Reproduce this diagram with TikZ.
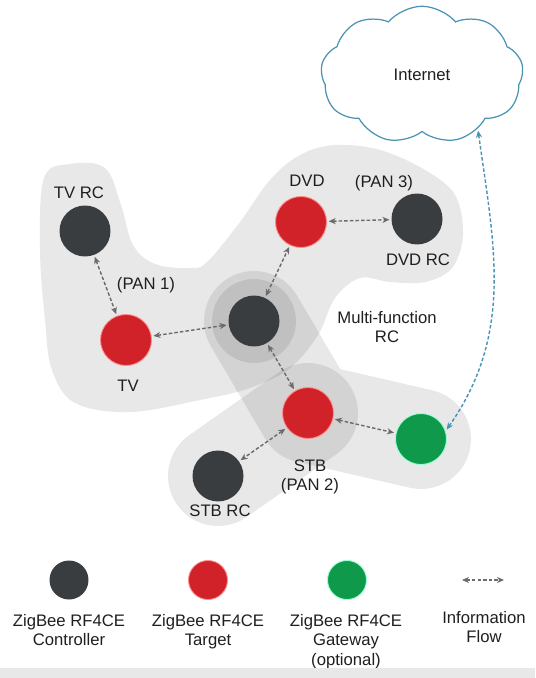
\documentclass[tikz,border=0pt]{standalone}
\usepackage{fontspec}
\setmainfont{Liberation Sans}
\usepackage{tikz}
\usetikzlibrary{shapes.symbols,arrows.meta,backgrounds}

\definecolor{ctrlgray}{HTML}{3A3D3F}
\definecolor{targetred}{HTML}{D12229}
\definecolor{gwgreen}{HTML}{0E9A4A}
\definecolor{cloudblue}{HTML}{4A93B3}
\definecolor{flowgray}{HTML}{6B6B6B}

\begin{document}
\begin{tikzpicture}[x=0.02cm, y=-0.02cm,
    every node/.style={font=\fontsize{9.5}{11}\selectfont, text=black!88},
    dev/.style={circle, minimum size=1.02cm, inner sep=0pt},
    ctrl/.style={dev, fill=ctrlgray},
    target/.style={dev, fill=targetred, draw=red!45, line width=0.5pt},
    gateway/.style={dev, fill=gwgreen, draw=green!40!cyan!40, line width=0.5pt},
    legend/.style={minimum size=0.78cm},
    flow/.style={<->, >={Stealth[length=4pt, width=3.5pt]}, dash pattern=on 2pt off 1.2pt, flowgray, line width=0.8pt, shorten <=1pt, shorten >=1pt},
    blob/.style={black, opacity=0.09},
    lbl/.style={align=center, inner sep=0pt}]
    \useasboundingbox (0,0) rectangle (535,678);

    \node[ctrl] (tvrc) at (85,231) {};
    \node[target] (tv) at (126,340) {};
    \node[ctrl] (mfrc) at (254,321) {};
    \node[target] (dvd) at (301,222) {};
    \node[ctrl] (dvdrc) at (417,219) {};
    \node[target] (stb) at (308,413) {};
    \node[gateway] (gw) at (421,439) {};
    \node[ctrl] (stbrc) at (218,476) {};
    \node[cloud, cloud puffs=9, cloud puff arc=100, cloud ignores aspect, draw=cloudblue, line width=0.7pt, fill=white,
          minimum width=4.05cm, minimum height=2.75cm] (net) at (422,75) {Internet};

    % grey PAN areas
    \begin{scope}[on background layer]
        \fill[blob] plot[smooth cycle, tension=0.6] coordinates {(44,178) (70,164) (105,168) (121,205) (133,245) (155,264)
            (190,268) (207,262) (240,222) (270,180) (300,155) (335,145) (380,150) (425,170) (455,195) (463,235)
            (452,268) (425,282) (390,282) (360,278) (335,298) (318,335) (290,368) (250,388) (200,400) (130,412)
            (75,403) (52,370) (45,320) (40,250)};
        \draw[blob, line width=2cm, line cap=round, line join=round] (mfrc.center) -- (stb.center) -- (gw.center);
        \draw[blob, line width=2cm, line cap=round] (stbrc.center) -- (stb.center);
        \fill[blob] (mfrc.center) circle[radius=0.84cm];
    \end{scope}

    \node (ltvrc) at (79,193) {TV RC};
    \node (lpan1) at (146,285) {(PAN 1)};
    \node (ltv) at (128,386) {TV};
    \node (ldvd) at (307,181) {DVD};
    \node (lpan3) at (384,183) {(PAN 3)};
    \node (ldvdrc) at (418,260) {DVD RC};
    \node[lbl] (lmfrc) at (387,327) {Multi-function\\RC};
    \node[lbl] (lstb) at (310,477) {STB\\(PAN 2)};
    \node (lstbrc) at (220,511) {STB RC};

    \path[flow]
        (tvrc) edge (tv)
        (tv) edge (mfrc)
        (mfrc) edge (dvd)
        (dvd) edge (dvdrc)
        (mfrc) edge (stb)
        (stb) edge (stbrc)
        (stb) edge (gw);
    \draw[flow, cloudblue] (net.-44) to[out=-82, in=55] (gw.18);

    % legend
    \node[ctrl, legend] (kctrl) at (69,580) {};
    \node[target, legend] (ktarget) at (208,580) {};
    \node[gateway, legend] (kgw) at (347,580) {};
    \coordinate (kflowa) at (462,580);
    \coordinate (kflowb) at (504,580);
    \draw[flow, shorten <=0pt, shorten >=0pt] (kflowa) -- (kflowb);
    \node[lbl, anchor=north] (lctrl) at (69,614) {ZigBee RF4CE\\Controller};
    \node[lbl, anchor=north] (ltarget) at (208,614) {ZigBee RF4CE\\Target};
    \node[lbl, anchor=north] (lgw) at (346,614) {ZigBee RF4CE\\Gateway\\(optional)};
    \node[lbl, anchor=north] (lflow) at (484,611) {Information\\Flow};
    \fill[gray!18] (0,668) rectangle (535,678);
\end{tikzpicture}
\end{document}
